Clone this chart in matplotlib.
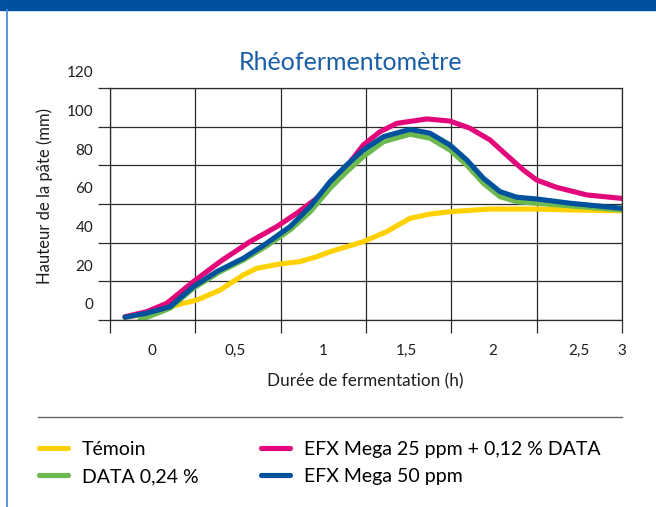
import numpy as np
import matplotlib
matplotlib.use("Agg")
import matplotlib.pyplot as plt
from matplotlib.lines import Line2D
from matplotlib.patches import Rectangle

plt.rcParams["font.family"] = ["Lato", "DejaVu Sans"]

# =========================
# Données (heures, mm)
# =========================
temoin_x = [0.088, 0.234, 0.391, 0.508, 0.645, 0.781, 0.859, 0.996, 1.113, 1.211,
            1.289, 1.484, 1.621, 1.758, 1.875, 1.992, 2.227, 2.5, 2.695, 2.998]
temoin_y = [1.4, 3.5, 7.8, 10.3, 15.5, 23.3, 26.7, 29.0, 30.2, 32.7,
            35.3, 40.5, 45.7, 52.6, 54.8, 56.0, 57.4, 57.4, 56.9, 56.5]

efx25_x = [0.088, 0.215, 0.332, 0.488, 0.645, 0.820, 0.977, 1.094, 1.211, 1.348,
           1.484, 1.582, 1.680, 1.856, 1.992, 2.109, 2.227, 2.324, 2.422, 2.5,
           2.617, 2.695, 2.793, 2.998]
efx25_y = [1.7, 4.3, 8.6, 19.8, 30.2, 40.5, 48.3, 55.2, 62.9, 75.0,
           90.5, 97.4, 101.7, 104.0, 102.9, 99.2, 93.1, 85.3, 77.6, 72.4,
           68.6, 66.9, 64.7, 62.9]

data024_x = [0.176, 0.352, 0.488, 0.645, 0.781, 0.918, 1.055, 1.172, 1.289, 1.387,
             1.484, 1.602, 1.758, 1.875, 1.992, 2.090, 2.188, 2.285, 2.383, 2.5, 2.998]
data024_y = [0.0, 6.1, 16.4, 25.0, 31.0, 38.3, 46.6, 55.9, 68.1, 76.7,
             84.5, 92.2, 96.1, 94.0, 87.9, 80.2, 70.7, 63.8, 61.2, 60.4, 56.9]

efx50_x = [0.088, 0.215, 0.352, 0.488, 0.625, 0.781, 0.918, 1.055, 1.172, 1.289,
           1.387, 1.484, 1.602, 1.758, 1.875, 1.992, 2.090, 2.188, 2.285, 2.383,
           2.5, 2.695, 2.998]
efx50_y = [1.4, 3.5, 6.9, 17.2, 25.0, 31.9, 39.7, 48.3, 58.6, 71.5,
           80.2, 87.9, 94.8, 98.6, 96.6, 90.5, 82.8, 73.3, 66.4, 63.5,
           62.6, 60.4, 57.8]

x_grid = [0, 0.5, 1, 1.5, 2, 2.5, 3]
y_grid = [0, 20, 40, 60, 80, 100, 120]
x_tick_labels = ["0", "0,5", "1", "1,5", "2", "2,5", "3"]
x_label_pos = [0.244, 0.732, 1.248, 1.738, 2.242, 2.748, 3.0]
y_tick_labels = ["0", "20", "40", "60", "80", "100", "120"]
y_label_offset = 8.3

JAUNE = "#FFD100"
VERT = "#6DB94F"
MAGENTA = "#E2087C"
BLEU = "#00529C"
GRILLE = "#2b2b2b"
TEXTE = "#1e1e1e"

fig = plt.figure(figsize=(6.56, 5.07), dpi=100)

# bandeau bleu en haut + filet à gauche
fig.patches.append(Rectangle((0, 1 - 10 / 507), 1, 10 / 507, transform=fig.transFigure,
                             color="#0050A0", zorder=0))
fig.add_artist(Line2D([6.5 / 656, 6.5 / 656], [0, 1 - 10 / 507], transform=fig.transFigure,
                      color="#4A8FD6", lw=1.3))

ax = fig.add_axes([110 / 656, 1 - 320 / 507, 512 / 656, 232 / 507])
ax.set_xlim(0, 3)
ax.set_ylim(0, 120)

lw = 3.7
style = dict(lw=lw, solid_capstyle="round", solid_joinstyle="round")
ax.plot(temoin_x, temoin_y, color=JAUNE, **style)
ax.plot(efx25_x, efx25_y, color=MAGENTA, **style)
ax.plot(data024_x, data024_y, color=VERT, **style)
ax.plot(efx50_x, efx50_y, color=BLEU, **style)

# grille + petits traits qui dépassent
ax.set_xticks([])
ax.set_yticks([])
ax.set_xticks(x_grid, minor=True)
ax.set_yticks(y_grid, minor=True)
ax.grid(True, which="minor", color=GRILLE, lw=0.9)
ax.tick_params(which="minor", length=9, width=0.9, color=GRILLE, direction="out")
for sp in ax.spines.values():
    sp.set_color(GRILLE)
    sp.set_linewidth(0.9)

# étiquettes décalées comme sur l'original
for xp, lab in zip(x_label_pos, x_tick_labels):
    ax.text(xp, -0.151, lab, transform=ax.get_xaxis_transform(),
            ha="center", va="baseline", fontsize=11, color=TEXTE, clip_on=False)
for v, lab in zip(y_grid, y_tick_labels):
    ax.text(-0.033, v + y_label_offset, lab, transform=ax.get_yaxis_transform(),
            ha="right", va="center_baseline", fontsize=11, color=TEXTE, clip_on=False)

fig.text(351 / 656, 1 - 62 / 507, "Rhéofermentomètre", ha="center", va="center",
         fontsize=18, color="#1A5EA8")
fig.text(45 / 656, 1 - 196 / 507, "Hauteur de la pâte (mm)", ha="center", va="center",
         rotation=90, fontsize=12, color=TEXTE)
fig.text(365 / 656, 1 - 381 / 507, "Durée de fermentation (h)", ha="center", va="center",
         fontsize=12.3, color=TEXTE)

# séparateur
fig.add_artist(Line2D([38 / 656, 622 / 656], [1 - 417 / 507, 1 - 417 / 507],
                      transform=fig.transFigure, color="#666", lw=1.0))

# légende en deux colonnes
def handle(c):
    return Line2D([], [], color=c, lw=3.7, solid_capstyle="round")

leg_kw = dict(frameon=False, fontsize=14, handlelength=1.5, handletextpad=0.7,
              labelspacing=0.52, borderpad=0, borderaxespad=0, loc="upper left")
fig.legend([handle(JAUNE), handle(VERT)], ["Témoin", "DATA 0,24 %"],
           bbox_to_anchor=(39 / 656, 1 - 441 / 507), **leg_kw)
fig.legend([handle(MAGENTA), handle(BLEU)], ["EFX Mega 25 ppm + 0,12 % DATA", "EFX Mega 50 ppm"],
           bbox_to_anchor=(261 / 656, 1 - 441 / 507), **leg_kw)

fig.savefig("out.png", dpi=100)
